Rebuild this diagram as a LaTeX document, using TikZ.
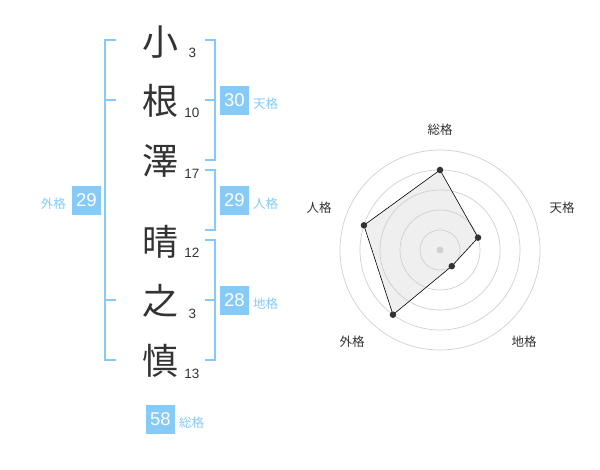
\documentclass[tikz,border=0pt]{standalone}
\usepackage{fontspec}
\setmainfont{Noto Sans CJK JP}
\newfontfamily\numfont{Liberation Sans}
\definecolor{brk}{HTML}{86CBF7}
\definecolor{boxc}{HTML}{86CBF7}
\definecolor{lblc}{HTML}{86CBF7}
\definecolor{ink}{HTML}{333333}
\definecolor{ring}{HTML}{D0D0D0}
\definecolor{area}{HTML}{EFEFEF}
\tikzset{
  bigchar/.style={inner sep=0pt, text=ink, font=\fontsize{36}{36}\selectfont},
  strokes/.style={inner sep=0pt, text=ink, font=\numfont\fontsize{13.5}{14}\selectfont},
  scorebox/.style={fill=boxc, text=white, minimum width=29, minimum height=29, inner sep=0pt, font=\numfont\fontsize{18.5}{19}\selectfont},
  kaku/.style={inner sep=0pt, text=lblc, font=\fontsize{12.5}{13}\selectfont},
  bracket/.style={draw=brk, line width=2},
  radarlbl/.style={inner sep=0pt, text=ink, font=\fontsize{12.5}{13}\selectfont},
  dot/.style={circle, fill=ink, inner sep=0pt, minimum size=6.5},
}
\begin{document}
\begin{tikzpicture}[x=1pt,y=-1pt]
\useasboundingbox (0,0) rectangle (600,470);
% characters
\node[bigchar] (c1) at (160,42) {小};
\node[bigchar] (c2) at (160,101) {根};
\node[bigchar] (c3) at (160,161) {澤};
\node[bigchar] (c4) at (160,242) {晴};
\node[bigchar] (c5) at (160,301) {之};
\node[bigchar] (c6) at (160,361) {慎};
% stroke counts
\node[strokes] (n1) at (192.5,53) {3};
\node[strokes] (n2) at (192,113) {10};
\node[strokes] (n3) at (192,173.5) {17};
\node[strokes] (n4) at (192,252.5) {12};
\node[strokes] (n5) at (192.5,313.5) {3};
\node[strokes] (n6) at (192,373.5) {13};
% left bracket (gaikaku)
\draw[bracket] (116,40) -- (105,40) -- (105,360) -- (116,360);
\draw[bracket] (105,100) -- (116,100);
\draw[bracket] (105,300) -- (116,300);
% right brackets
\draw[bracket] (205,40) -- (214.5,40) -- (214.5,160) -- (205,160);
\draw[bracket] (205,100) -- (214.5,100);
\draw[bracket] (205,170) -- (214.5,170) -- (214.5,230) -- (205,230);
\draw[bracket] (205,240) -- (214.5,240) -- (214.5,360) -- (205,360);
\draw[bracket] (205,300) -- (214.5,300);
% score boxes
\node[scorebox] (b1) at (234.5,100.5) {30};
\node[kaku, anchor=west] (l1) at (253,104) {天格};
\node[scorebox] (b2) at (234.5,200.5) {29};
\node[kaku, anchor=west] (l2) at (253,204) {人格};
\node[scorebox] (b3) at (234.5,300.5) {28};
\node[kaku, anchor=west] (l3) at (253,304) {地格};
\node[scorebox] (b4) at (86.5,200.5) {29};
\node[kaku, anchor=east] (l4) at (66,204) {外格};
\node[scorebox] (b5) at (160.5,419.5) {58};
\node[kaku, anchor=west] (l5) at (179,423) {総格};
% radar chart
\begin{scope}[shift={(440,250)}, yscale=-1]
  \coordinate (p1) at (90:80);
  \coordinate (p2) at (18:40);
  \coordinate (p3) at (-54:20);
  \coordinate (p4) at (-126:80);
  \coordinate (p5) at (162:80);
  \fill[area] (p1) -- (p2) -- (p3) -- (p4) -- (p5) -- cycle;
  \foreach \r in {20,40,60,80,100} \draw[ring, line width=0.7] (0,0) circle[radius=\r];
  \draw[black, line width=0.6] (p1) -- (p2) -- (p3) -- (p4) -- (p5) -- cycle;
  \foreach \p in {p1,p2,p3,p4,p5} \node[dot] at (\p) {};
  \node[circle, fill=ring, inner sep=0pt, minimum size=7] (ctr) at (0,0) {};
\end{scope}
\node[radarlbl] (r1) at (440,130) {総格};
\node[radarlbl] (r2) at (562,208) {天格};
\node[radarlbl] (r3) at (319,208) {人格};
\node[radarlbl] (r4) at (352,342) {外格};
\node[radarlbl] (r5) at (524,342) {地格};
\end{tikzpicture}
\end{document}
